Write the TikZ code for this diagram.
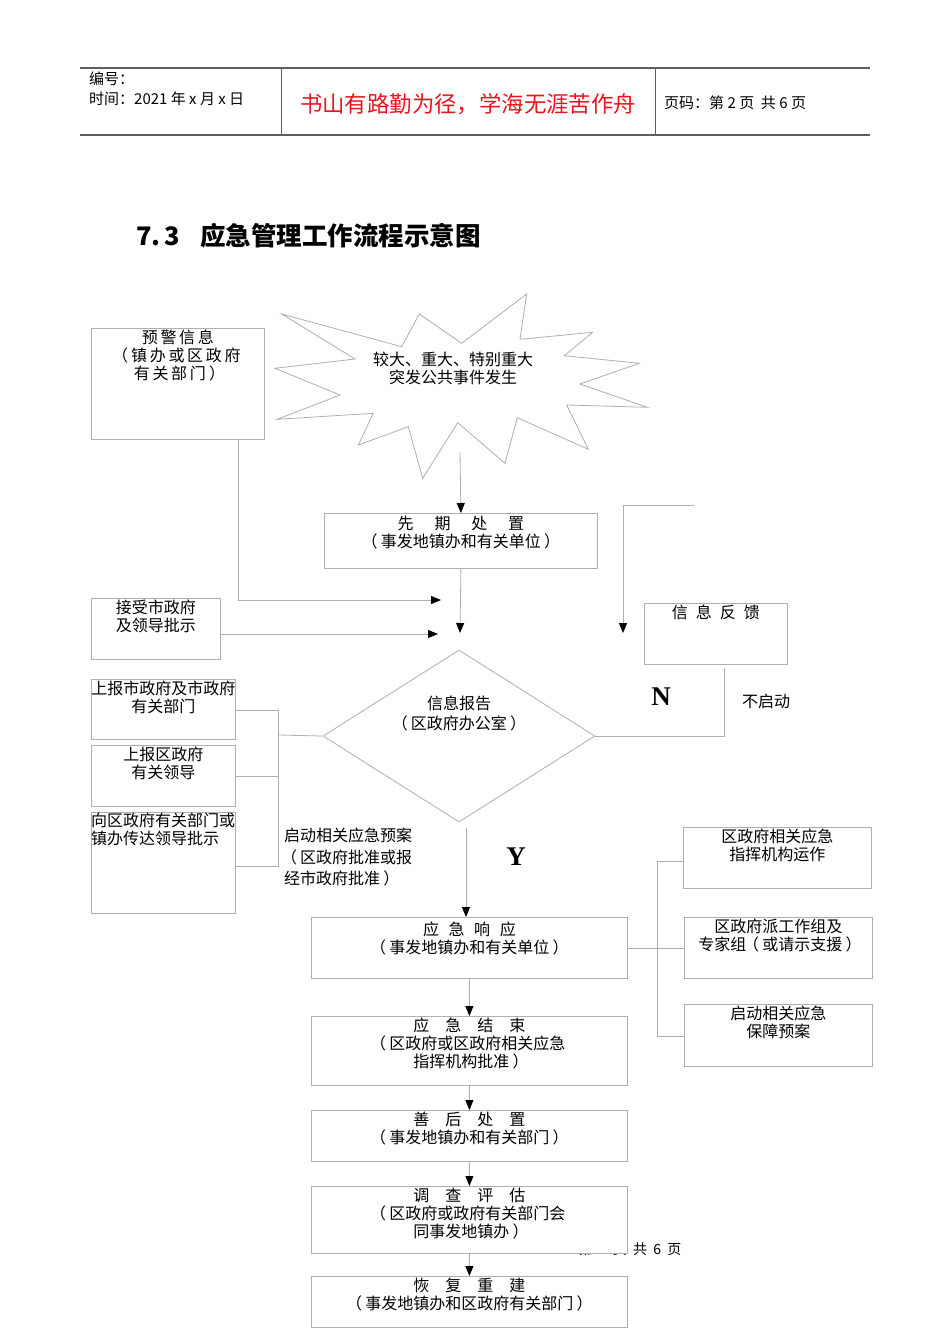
\documentclass[tikz,border=0pt]{standalone}
\usepackage{fontspec}
\setmainfont{Noto Sans CJK SC}
\newfontfamily\tnr{Liberation Serif}
\usetikzlibrary{shapes.geometric,arrows.meta}
\definecolor{edge}{RGB}{175,175,175}
\definecolor{rule}{RGB}{95,95,95}
\definecolor{motto}{RGB}{235,20,30}
\newcommand{\lp}{\makebox[1em][r]{（\hspace{0.2em}}}
\newcommand{\rp}{\makebox[1em][l]{\hspace{0.2em}）}}

\begin{document}
\begin{tikzpicture}[x=1pt,y=1pt]
\tikzstyle{every node}+=[inner sep=0pt]
\tikzstyle{box}=[draw=edge, fill=white, line width=0.8pt, anchor=north west]
\tikzstyle{txt}=[align=center, font=\fontsize{16}{18}\selectfont]
\tikzstyle{line}=[draw=edge, line width=0.8pt]
\tikzstyle{arr}=[line, -{Triangle[length=10pt,width=8pt,color=black]}]
\tikzstyle{yn}=[font=\tnr\fontsize{27}{30}\selectfont\bfseries]
\useasboundingbox (0,0) rectangle (950,-1344);
% page header
\draw [rule, line width=1.2pt] (80,-68) -- (870,-68);
\draw [rule, line width=1.2pt] (80,-135) -- (870,-135);
\draw [rule, line width=1pt] (281,-68) -- (281,-135);
\draw [rule, line width=1pt] (655,-68) -- (655,-135);
\node [txt, anchor=west, font=\fontsize{15}{18}\selectfont] (num) at (89,-79) {编号：};
\node [txt, anchor=west, font=\fontsize{15}{18}\selectfont] (date) at (89,-99) {时间：2021 年 x 月 x 日};
\node [txt, text=motto, font=\fontsize{22.4}{26}\selectfont] (motto) at (468,-104) {书山有路勤为径，学海无涯苦作舟};
\node [txt, anchor=west, font=\fontsize{15}{18}\selectfont] (page) at (664,-103) {页码：第 2 页\ \ 共 6 页};
% title
\node [anchor=west, font=\fontsize{25.5}{30}\selectfont\bfseries] (title) at (136,-236) {7.\,3\hspace{20pt}应急管理工作流程示意图};
% footer, partly hidden by the box above it
\node [font=\fontsize{14}{16}\selectfont] (foot) at (630,-1249) {第\ \ 2\ \ 页\ \ 共\ \ 6\ \ 页};
% event burst
\draw [line, fill=white] (281.7,-314) -- (401.7,-346.7) -- (419.3,-314) -- (461.7,-343.3)
  -- (526.7,-294) -- (520,-339.3) -- (592.7,-332.3) -- (564.3,-355.7) -- (639.3,-363.3)
  -- (580,-384) -- (647.3,-407.3) -- (566.7,-405) -- (588.3,-449.3) -- (517.3,-417.7)
  -- (505,-463.3) -- (457.7,-422.7) -- (422.7,-478.3) -- (408.3,-426.7) -- (358.3,-445)
  -- (373.3,-413.3) -- (277.3,-419.3) -- (340,-395) -- (275,-368.3) -- (355,-359) -- cycle;
\node [txt] (burst) at (453,-368) {较大、重大、特别重大\\突发公共事件发生};
% boxes
\node [box, minimum width=173pt, minimum height=111pt] (yj) at (91,-328) {};
\node [txt, anchor=north] (yjt) at ([yshift=-2pt]yj.north) {预\,警\,信\,息\\\lp 镇\,办\,或\,区\,政\,府\\有\,关\,部\,门\rp};
\node [box, minimum width=273pt, minimum height=55pt] (xq) at (324,-513) {};
\node [txt, anchor=north] (xqt) at ([yshift=-3pt]xq.north) {先\hspace{1.3em}期\hspace{1.3em}处\hspace{1.3em}置\\\lp 事发地镇办和有关单位\rp};
\node [box, minimum width=129pt, minimum height=61pt] (js) at (91,-598) {};
\node [txt, anchor=north] (jst) at ([yshift=-2pt]js.north) {接受市政府\\及领导批示};
\node [box, minimum width=143pt, minimum height=61pt] (fk) at (644,-603) {};
\node [txt, anchor=north] (fkt) at ([yshift=-2pt]fk.north) {信\hspace{0.5em}息\hspace{0.5em}反\hspace{0.5em}馈};
\node [box, minimum width=144pt, minimum height=60pt] (sb1) at (91,-679) {};
\node [txt, anchor=north] (sb1t) at ([yshift=-2pt]sb1.north) {上报市政府及市政府\\有关部门};
\node [box, minimum width=144pt, minimum height=61pt] (sb2) at (91,-745) {};
\node [txt, anchor=north] (sb2t) at ([yshift=-2pt]sb2.north) {上报区政府\\有关领导};
\node [box, minimum width=144pt, minimum height=101pt] (cd) at (91,-812) {};
\node [txt, anchor=north west, align=left] (cdt) at ([yshift=-1pt]cd.north west) {向区政府有关部门或\\镇办传达领导批示};
\node [draw=edge, line width=0.8pt, fill=white, diamond, aspect=1.58, minimum width=272pt, minimum height=172pt] (bg) at (459,-736) {};
\node [txt, font=\fontsize{16}{20}\selectfont] (bgt) at (459,-713) {信息报告\\\lp 区政府办公室\rp};
\node [box, minimum width=316pt, minimum height=61pt] (xy) at (311,-917) {};
\node [txt, anchor=north] (xyt) at ([yshift=-5pt]xy.north) {应\hspace{0.6em}急\hspace{0.6em}响\hspace{0.6em}应\\\lp 事发地镇办和有关单位\rp};
\node [box, minimum width=188pt, minimum height=61pt] (r1) at (683,-827) {};
\node [txt, anchor=north] (r1t) at ([yshift=-2pt]r1.north) {区政府相关应急\\指挥机构运作};
\node [box, minimum width=188pt, minimum height=61pt] (r2) at (684,-917) {};
\node [txt, anchor=north] (r2t) at ([yshift=-2pt]r2.north) {区政府派工作组及\\专家组\lp 或请示支援\rp};
\node [box, minimum width=188pt, minimum height=62pt] (r3) at (684,-1004) {};
\node [txt, anchor=north] (r3t) at ([yshift=-2pt]r3.north) {启动相关应急\\保障预案};
\node [box, minimum width=316pt, minimum height=69pt] (jsu) at (311,-1016) {};
\node [txt, anchor=north] (jsut) at ([yshift=-2pt]jsu.north) {应\hspace{1em}急\hspace{1em}结\hspace{1em}束\\\lp 区政府或区政府相关应急\\指挥机构批准\rp};
\node [box, minimum width=316pt, minimum height=51pt] (sh) at (311,-1110) {};
\node [txt, anchor=north] (sht) at ([yshift=-2pt]sh.north) {善\hspace{1em}后\hspace{1em}处\hspace{1em}置\\\lp 事发地镇办和有关部门\rp};
\node [box, minimum width=316pt, minimum height=67pt] (dc) at (311,-1186) {};
\node [txt, anchor=north] (dct) at ([yshift=-2pt]dc.north) {调\hspace{1em}查\hspace{1em}评\hspace{1em}估\\\lp 区政府或政府有关部门会\\同事发地镇办\rp};
\node [box, minimum width=316pt, minimum height=51pt] (hf) at (311,-1276) {};
\node [txt, anchor=north] (hft) at ([yshift=-2pt]hf.north) {恢\hspace{1em}复\hspace{1em}重\hspace{1em}建\\\lp 事发地镇办和区政府有关部门\rp};
% free labels
\node [txt, anchor=north west, align=left, font=\fontsize{16}{21.5}\selectfont] (qd) at (284,-828) {启动相关应急预案\\\lp 区政府批准或报\\经市政府批准\rp};
\node [yn] (yes) at (516,-857) {Y};
\node [yn] (no) at (661,-697) {N};
\node [txt] (nostart) at (766,-701) {不启动};
% free ends
\coordinate (bs) at (460,-452);
\coordinate (a1) at (441,-600);
\coordinate (a2) at (460,-633);
\coordinate (a3) at (438,-634);
\coordinate (f0) at (694,-505);
\coordinate (a4) at (623,-633);
\coordinate (lb) at (278,-735);
\coordinate (y0) at (466,-828);
% connectors
\draw [arr] (bs) -- (xq.north);
\draw [arr] ([xshift=60pt]yj.south) |- (a1);
\draw [arr] (xq.south) -- (a2);
\draw [arr] (js.east |- a3) -- (a3);
\draw [arr] (f0) -| (a4);
\draw [line] (bg.east) -| ([xshift=8pt,yshift=-3pt]fk.south);
\draw [line] (bg.west) -- (lb);
\draw [line] ([yshift=-1pt]sb1.east) -| (lb);
\draw [line] (sb2.east) -| (lb);
\draw [line] ([yshift=-3pt]cd.east) -| (lb);
\draw [arr] (y0) -- (y0 |- xy.north);
\draw [line] (xy.east) -- (r2.west);
\draw [line] ([yshift=-3pt]r1.west) -| ([xshift=-27pt,yshift=-1pt]r3.west) -- ([yshift=-1pt]r3.west);
\draw [arr] (xy.south) -- (jsu.north);
\draw [arr] (jsu.south) -- (sh.north);
\draw [arr] (sh.south) -- (dc.north);
\draw [arr] (dc.south) -- (hf.north);
\end{tikzpicture}
\end{document}
